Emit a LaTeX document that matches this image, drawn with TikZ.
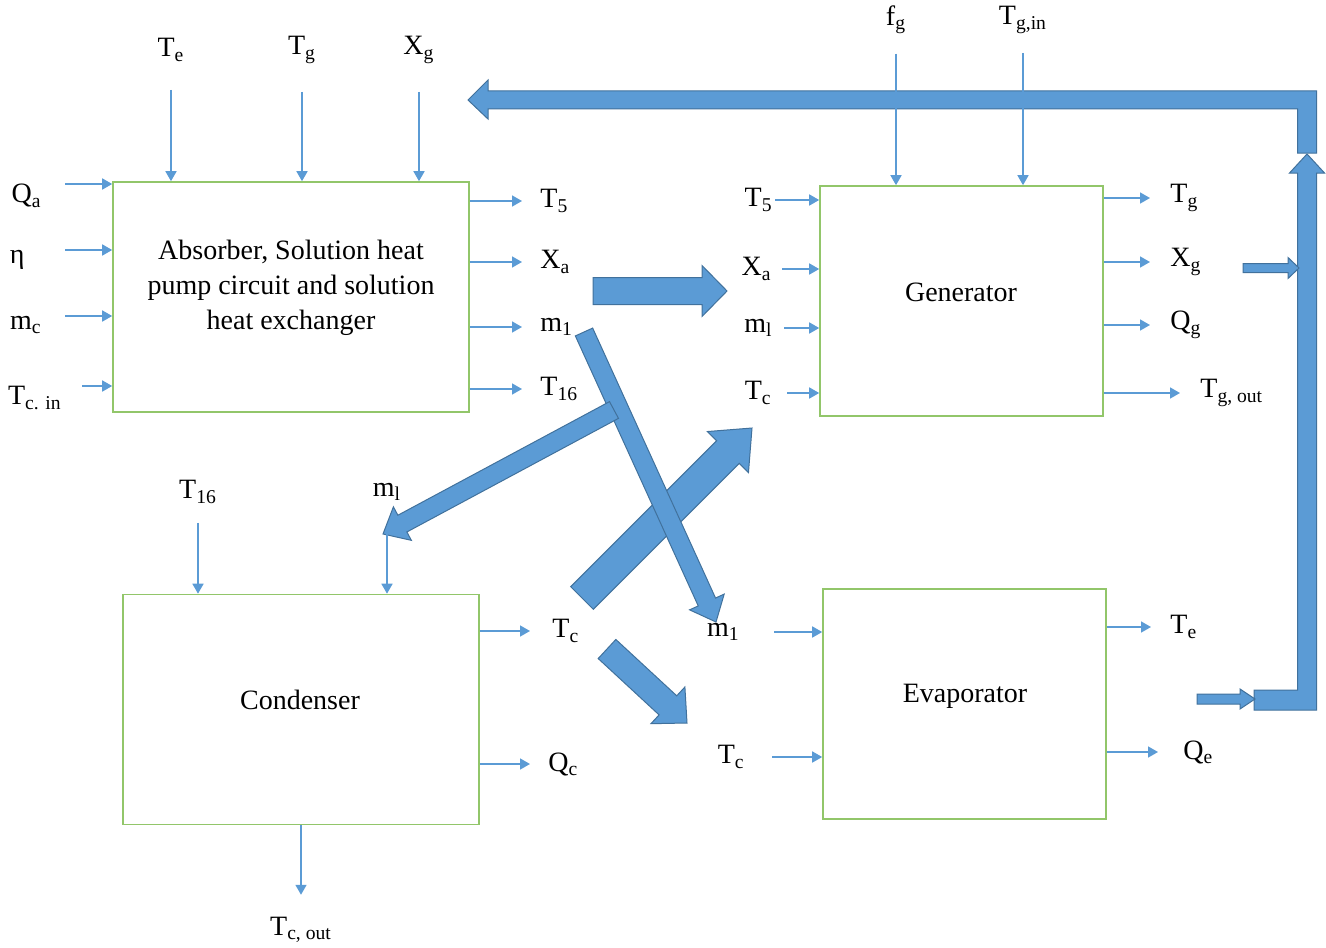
\documentclass[tikz,border=0pt]{standalone}
\usepackage{fontspec}
\setmainfont{Liberation Serif}
\usetikzlibrary{arrows.meta,calc}

\definecolor{figFlow}{RGB}{91,155,213}
\definecolor{figEdge}{RGB}{65,113,156}
\definecolor{figBox} {RGB}{146,198,106}

% tail, tip, half shaft, half head, head length
\newcommand{\blockarrow}[5]{%
  \coordinate (ba-tail) at (#1);
  \coordinate (ba-tip) at (#2);
  \coordinate (ba-base) at ($(ba-tip)!#5!(ba-tail)$);
  \filldraw[bigflow] ($(ba-tail)!#3!90:(ba-tip)$)
      -- ($(ba-base)!#3!90:(ba-tip)$) -- ($(ba-base)!#4!90:(ba-tip)$)
      -- (ba-tip)
      -- ($(ba-base)!#4!-90:(ba-tip)$) -- ($(ba-base)!#3!-90:(ba-tip)$)
      -- ($(ba-tail)!#3!-90:(ba-tip)$) -- cycle;}

\begin{document}
\begin{tikzpicture}[x=0.5pt, y=-0.5pt,
    box/.style={draw=figBox, line width=0.8pt, minimum height=115pt, inner sep=0pt},
    boxtext/.style={align=center, font=\fontsize{14}{17.5}\selectfont},
    lbl/.style={inner sep=0pt, font=\fontsize{14}{16}\selectfont},
    flow/.style={draw=figFlow, line width=0.8pt, -{Triangle[length=5pt, width=5.5pt]}},
    bigflow/.style={fill=figFlow, draw=figEdge, line width=0.5pt, line join=miter}]
        \useasboundingbox (0,0) rectangle (1326,947);

        \node[box, minimum width=178pt](absorber) at (291,297){};
        \node[boxtext](absorbertext) at (291,288){Absorber, Solution heat\\pump circuit and solution\\heat exchanger};
        \node[box, minimum width=141.5pt](generator) at (961.5,301){};
        \node[boxtext](generatortext) at (961,292){Generator};
        \node[box, minimum width=178pt](condenser) at (301,709.5){};
        \node[boxtext](condensertext) at (300,700){Condenser};
        \node[box, minimum width=141.5pt](evaporator) at (964.5,704){};
        \node[boxtext](evaporatortext) at (965,696){Evaporator};

        \filldraw[bigflow](468,100) -- (488,80) -- (488,91) -- (1316.5,91) -- (1316.5,153)
              -- (1297.5,153) -- (1297.5,109) -- (488,109) -- (488,119) -- cycle;
        \filldraw[bigflow](1254,690) -- (1297.5,690) -- (1297.5,173) -- (1289.5,173) -- (1307,154)
              -- (1324.5,173) -- (1316.5,173) -- (1316.5,710) -- (1254,710) -- cycle;
        \blockarrow{1243,268}{1299,268}{2.25pt}{5.25pt}{5.5pt}
        \blockarrow{1197,699}{1255,699}{2.5pt}{5pt}{7.5pt}
        \blockarrow{593,291}{727,291}{6.75pt}{12.75pt}{12.5pt}
        \blockarrow{582,598}{752,428}{8pt}{14.5pt}{17pt}
        \blockarrow{584,332}{716,622}{4.75pt}{9.5pt}{11pt}
        \blockarrow{614,410}{383,534}{4.75pt}{9.5pt}{11pt}
        \blockarrow{607,649}{687,723}{6.5pt}{12.5pt}{13pt}

        \node[lbl, anchor=north east](qa) at (42,184){Q\textsubscript{a}};
        \node[lbl, anchor=north east](eta) at (25,250){η};
        \node[lbl, anchor=north east](mc) at (42,316){m\textsubscript{c}};
        \node[lbl, anchor=north east](tcin) at (62,386){T\textsubscript{c. in}};
        \draw[flow, shorten <=11.5pt](qa.north east) -- (qa.north east -| absorber.west);
        \draw[flow, shorten <=20pt](eta.north east) -- (eta.north east -| absorber.west);
        \draw[flow, shorten <=11.5pt](mc.north east) -- (mc.north east -| absorber.west);
        \draw[flow, shorten <=10pt](tcin.north east) -- (tcin.north east -| absorber.west);

        \node[lbl](te) at (171,50){T\textsubscript{e}};
        \node[lbl](tg) at (302,50){T\textsubscript{g}};
        \node[lbl](xg) at (419,50){X\textsubscript{g}};
        \draw[flow, shorten <=14pt](te.south) -- (te.south |- absorber.north);
        \draw[flow, shorten <=14pt](tg.south) -- (tg.south |- absorber.north);
        \draw[flow, shorten <=14pt](xg.south) -- (xg.south |- absorber.north);

        \node[lbl, anchor=west](t5out) at (540,201){T\textsubscript{5}};
        \node[lbl, anchor=west](xaout) at (540,262){X\textsubscript{a}};
        \node[lbl, anchor=west](m1out) at (540,327){m\textsubscript{1}};
        \node[lbl, anchor=west](t16out) at (540,389){T\textsubscript{16}};
        \draw[flow, shorten >=9pt](t5out.west -| absorber.east) -- (t5out.west);
        \draw[flow, shorten >=9pt](xaout.west -| absorber.east) -- (xaout.west);
        \draw[flow, shorten >=9pt](m1out.west -| absorber.east) -- (m1out.west);
        \draw[flow, shorten >=9pt](t16out.west -| absorber.east) -- (t16out.west);

        \node[lbl, anchor=east](t5in) at (773,200){T\textsubscript{5}};
        \node[lbl, anchor=east](xain) at (772,269){X\textsubscript{a}};
        \node[lbl, anchor=east](mlgen) at (773,328){m\textsubscript{l}};
        \node[lbl, anchor=east](tcgen) at (772,393){T\textsubscript{c}};
        \draw[flow, shorten <=1pt](t5in.east) -- (t5in.east -| generator.west);
        \draw[flow, shorten <=5pt](xain.east) -- (xain.east -| generator.west);
        \draw[flow, shorten <=5.5pt](mlgen.east) -- (mlgen.east -| generator.west);
        \draw[flow, shorten <=7.5pt](tcgen.east) -- (tcgen.east -| generator.west);

        \node[lbl](fg) at (896,20){f\textsubscript{g}};
        \node[lbl](tgin) at (1023,20){T\textsubscript{g,in}};
        \draw[flow, shorten <=9.5pt](fg.south) -- (fg.south |- generator.north);
        \draw[flow, shorten <=9.5pt](tgin.south) -- (tgin.south |- generator.north);

        \node[lbl, anchor=west](tgout) at (1170,198){T\textsubscript{g}};
        \node[lbl, anchor=west](xgout) at (1170,262){X\textsubscript{g}};
        \node[lbl, anchor=west](qgout) at (1170,325){Q\textsubscript{g}};
        \node[lbl, anchor=west](tgoutlet) at (1200,393){T\textsubscript{g, out}};
        \draw[flow, shorten >=10pt](tgout.west -| generator.east) -- (tgout.west);
        \draw[flow, shorten >=10pt](xgout.west -| generator.east) -- (xgout.west);
        \draw[flow, shorten >=10pt](qgout.west -| generator.east) -- (qgout.west);
        \draw[flow, shorten >=10pt](tgoutlet.west -| generator.east) -- (tgoutlet.west);

        \node[lbl](t16in) at (198,492){T\textsubscript{16}};
        \node[lbl](mlcond) at (387,492){m\textsubscript{l}};
        \draw[flow, shorten <=9.5pt](t16in.south) -- (t16in.south |- condenser.north);
        \draw[flow, shorten <=14pt](mlcond.south) -- (mlcond.south |- condenser.north);

        \node[lbl, anchor=west](tccond) at (552,631){T\textsubscript{c}};
        \node[lbl, anchor=west](qccond) at (548,764){Q\textsubscript{c}};
        \draw[flow, shorten >=11pt](tccond.west -| condenser.east) -- (tccond.west);
        \draw[flow, shorten >=9pt](qccond.west -| condenser.east) -- (qccond.west);
        \node[lbl](tcout) at (301,930){T\textsubscript{c, out}};
        \draw[flow, shorten >=11pt](condenser.south) -- (tcout.north);

        \node[lbl, anchor=east](m1evap) at (740,632){m\textsubscript{1}};
        \node[lbl, anchor=east](tcevap) at (745,757){T\textsubscript{c}};
        \draw[flow, shorten <=17pt](m1evap.east) -- (m1evap.east -| evaporator.west);
        \draw[flow, shorten <=13.5pt](tcevap.east) -- (tcevap.east -| evaporator.west);
        \node[lbl, anchor=west](teevap) at (1170,627){T\textsubscript{e}};
        \node[lbl, anchor=west](qeevap) at (1183,752){Q\textsubscript{e}};
        \draw[flow, shorten >=9.5pt](teevap.west -| evaporator.east) -- (teevap.west);
        \draw[flow, shorten >=12.5pt](qeevap.west -| evaporator.east) -- (qeevap.west);
      \end{tikzpicture}
\end{document}
